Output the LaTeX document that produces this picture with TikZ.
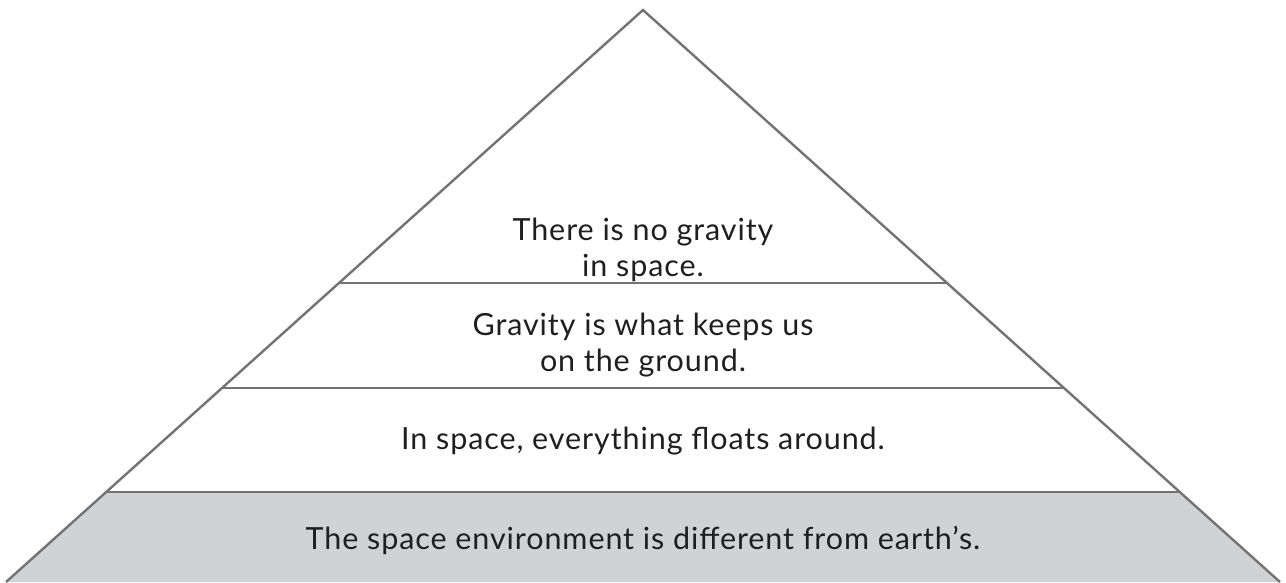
\documentclass[tikz,border=0pt]{standalone}
\usepackage{fontspec}
\setmainfont[LetterSpace=3]{Lato}
\begin{document}
\begin{tikzpicture}[x=1pt,y=-1pt,
  edge/.style={draw=black!55, line width=2.4pt},
  lbl/.style={align=center, font=\fontsize{30.5}{36}\selectfont, text=black!88, inner sep=0pt}]
\useasboundingbox (0,0) rectangle (1286,582);
\coordinate (apex) at (643,10);
\coordinate (bl) at (6,582);
\coordinate (br) at (1280,582);
\coordinate (l1) at (339.4,283); \coordinate (r1) at (946.6,283);
\coordinate (l2) at (222.7,388); \coordinate (r2) at (1063.3,388);
\coordinate (l3) at (107,492);   \coordinate (r3) at (1179,492);
\fill[fill={rgb,255:red,209;green,210;blue,212}] (l3) -- (r3) -- (br) -- (bl) -- cycle;
\draw[edge, line join=miter] (bl) -- (apex) -- (br);
\draw[edge] (l1) -- (r1);
\draw[edge] (l2) -- (r2);
\draw[edge] (l3) -- (r3);
\node[lbl] (t1) at (643,250) {There is no gravity\\in space.};
\node[lbl] (t2) at (643,345) {Gravity is what keeps us\\on the ground.};
\node[lbl] (t3) at (643,441) {In space, everything floats around.};
\node[lbl] (t4) at (643,540) {The space environment is different from earth’s.};
\end{tikzpicture}
\end{document}
